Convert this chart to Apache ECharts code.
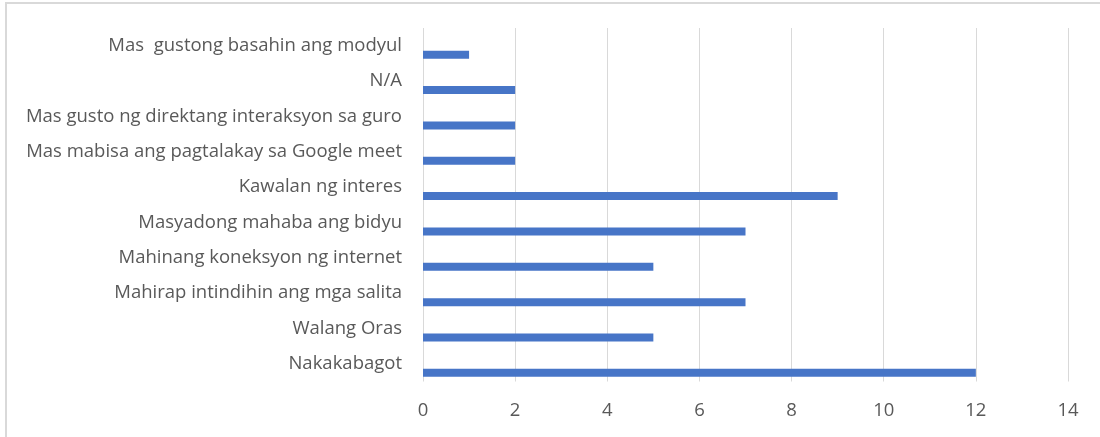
<!DOCTYPE html>
<html>
<head>
<meta charset="utf-8">
<script src="https://cdn.jsdelivr.net/npm/echarts@6/dist/echarts.min.js"></script>
<style>
  html, body { margin: 0; padding: 0; background: #fff; }
  #chart { width: 1100px; height: 437px; }
</style>
</head>
<body>
<div id="chart"></div>
<script>
// categories from bottom to top
const categories = [
  "Nakakabagot",
  "Walang Oras",
  "Mahirap intindihin ang mga salita",
  "Mahinang koneksyon ng internet",
  "Masyadong mahaba ang bidyu",
  "Kawalan ng interes",
  "Mas mabisa ang pagtalakay sa Google meet",
  "Mas gusto ng direktang interaksyon sa guro",
  "N/A",
  "Mas  gustong basahin ang modyul"
];
const counts = [12, 5, 7, 5, 7, 9, 2, 2, 2, 1];
// empty companion series (keeps the real bars below the band centre, like the original)
const emptySeries = categories.map(() => null);
const xTicks = { min: 0, max: 14, interval: 2 };

let myChart = echarts.init(document.getElementById("chart"));
let option = {
  animation: false,
  textStyle: { fontFamily: "Open Sans" },
  graphic: [
    {
      type: "rect",
      shape: { x: 6, y: 3, width: 1110, height: 450 },
      style: { fill: "none", stroke: "#d9d9d9", lineWidth: 2 },
      silent: true
    }
  ],
  grid: { left: 423, right: 32, top: 28, bottom: 55.5, containLabel: false },
  xAxis: {
    type: "value",
    min: xTicks.min,
    max: xTicks.max,
    interval: xTicks.interval,
    axisLine: { show: false },
    axisTick: { show: false },
    axisLabel: { color: "#595959", fontSize: 18.5, margin: 20 },
    splitLine: { show: true, lineStyle: { color: "#d9d9d9", width: 1 } }
  },
  yAxis: {
    type: "category",
    data: categories,
    axisLine: { show: false },
    axisTick: { show: false },
    axisLabel: { color: "#595959", fontSize: 18.5, margin: 21, padding: [4, 0, 0, 0] },
    splitLine: { show: false }
  },
  series: [
    {
      type: "bar",
      data: emptySeries,
      barWidth: 8,
      barGap: "125%"
    },
    {
      type: "bar",
      data: counts,
      barWidth: 8,
      barGap: "125%",
      itemStyle: { color: "#4775C7" }
    }
  ]
};
myChart.setOption(option);
</script>
</body>
</html>
